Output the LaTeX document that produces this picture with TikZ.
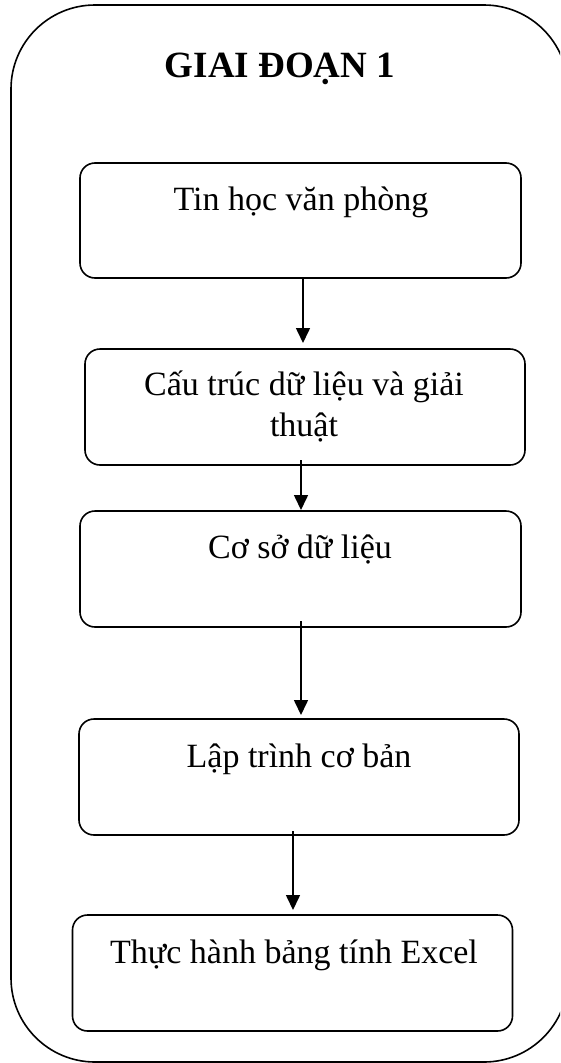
\documentclass[tikz,border=0pt]{standalone}
\usepackage{fontspec}
\setmainfont{Liberation Serif}
\usetikzlibrary{arrows.meta}
\begin{document}
\begin{tikzpicture}[x=1pt,y=-1pt,
  outerbox/.style={draw, line width=1.6pt, rounded corners=84pt, inner sep=0pt, outer sep=0pt},
  stepbox/.style={draw, line width=1.6pt, rounded corners=15pt, inner sep=0pt, outer sep=0pt},
  txt/.style={anchor=base, inner sep=0pt, font=\fontsize{34}{41}\selectfont},
  title/.style={anchor=base, inner sep=0pt, font=\fontsize{37}{44}\selectfont\bfseries},
  arr/.style={line width=1.6pt, -{Triangle[length=15pt,width=14pt]}}]
\useasboundingbox (0,0) rectangle (560,1063);
\clip (0,0) rectangle (560,1063);
\node[outerbox, minimum width=557pt, minimum height=1057pt] (outer) at (289.5,533.5) {};
\node[title] (ttl) at (280,77) {GIAI ĐOẠN 1};
\node[stepbox, minimum width=441pt, minimum height=115pt] (b1) at (300.5,220.5) {};
\node[stepbox, minimum width=440pt, minimum height=116pt] (b2) at (305,407) {};
\node[stepbox, minimum width=441pt, minimum height=116pt] (b3) at (300.5,569) {};
\node[stepbox, minimum width=440pt, minimum height=116pt] (b4) at (299,777) {};
\node[stepbox, minimum width=440pt, minimum height=116pt] (b5) at (292.5,973) {};
\node[txt] (t1) at (301,210) {Tin học văn phòng};
\node[txt] (t2a) at (304,395) {Cấu trúc dữ liệu và giải};
\node[txt] (t2b) at (304,436) {thuật};
\node[txt] (t3) at (300,558) {Cơ sở dữ liệu};
\node[txt] (t4) at (299,767) {Lập trình cơ bản};
\node[txt] (t5) at (294,963) {Thực hành bảng tính Excel};
\draw[arr, shorten >=6pt] ([xshift=2.5pt]b1.south) -- ([xshift=2.5pt]b1.south |- b2.north);
\draw[arr, shorten >=1pt] ([xshift=-4pt,yshift=5pt]b2.south) -- ([xshift=-4pt]b2.south |- b3.north);
\draw[arr, shorten >=4pt] ([xshift=0.5pt,yshift=6pt]b3.south) -- ([xshift=0.5pt]b3.south |- b4.north);
\draw[arr, shorten >=5pt] ([xshift=-6pt,yshift=4pt]b4.south) -- ([xshift=-6pt]b4.south |- b5.north);
\end{tikzpicture}
\end{document}
